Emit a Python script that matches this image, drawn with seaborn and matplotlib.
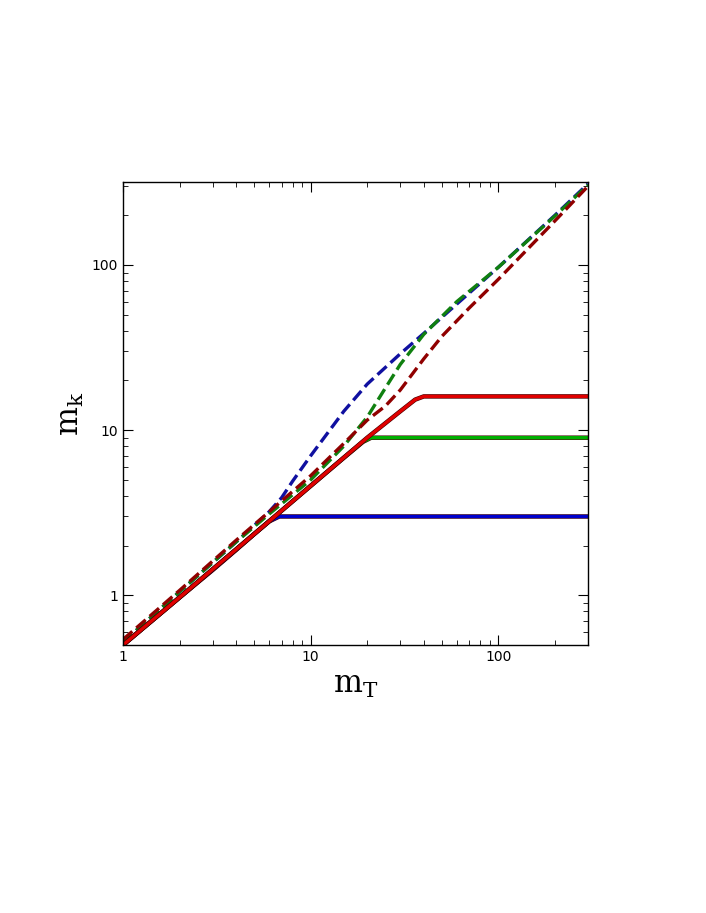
import numpy as np
import matplotlib
matplotlib.use("Agg")
import matplotlib.pyplot as plt
import seaborn as sns
import pandas as pd

sns.set_style("ticks")
plt.rcParams.update({"axes.edgecolor": "black", "xtick.color": "black",
                     "ytick.color": "black", "text.color": "black",
                     "axes.labelcolor": "black"})

# values (m_T, m_k)
solid_blue_x = [1, 2, 3, 4, 5, 6, 6.8, 10, 30, 100, 300]
solid_blue_y = [0.5, 0.97, 1.42, 1.88, 2.35, 2.8, 3.0, 3.0, 3.0, 3.0, 3.0]
solid_green_x = [1, 2, 5, 10, 15, 19, 21, 30, 100, 300]
solid_green_y = [0.5, 0.97, 2.35, 4.6, 6.8, 8.5, 9.0, 9.0, 9.0, 9.0]
solid_red_x = [1, 2, 5, 10, 20, 30, 36, 40, 60, 100, 300]
solid_red_y = [0.5, 0.97, 2.35, 4.6, 9.0, 13.0, 15.3, 16.0, 16.0, 16.0, 16.0]

dash_blue_x = [1, 2, 4, 6, 7, 8, 10, 15, 20, 30, 40, 60, 100, 200, 300]
dash_blue_y = [0.52, 1.05, 2.1, 3.2, 3.9, 4.9, 7.0, 13.0, 19.0, 29.0, 38.5, 58.0, 97, 200, 310]
dash_green_x = [1, 2, 4, 6, 10, 15, 20, 25, 30, 40, 60, 100, 200, 300]
dash_green_y = [0.52, 1.05, 2.1, 3.1, 5.0, 8.0, 12.0, 18.0, 25.0, 38.0, 60.0, 97.0, 198, 305]
dash_red_x = [1, 2, 4, 6, 10, 15, 20, 25, 30, 40, 50, 70, 100, 200, 300]
dash_red_y = [0.54, 1.07, 2.15, 3.2, 5.3, 8.3, 11.5, 14.0, 17.5, 27.0, 37.0, 55.0, 82.0, 185, 300]

series = [
    (dash_blue_x, dash_blue_y, "#1010a0", "--"),
    (dash_green_x, dash_green_y, "#108010", "--"),
    (dash_red_x, dash_red_y, "#900000", "--"),
    (solid_blue_x, solid_blue_y, "#0000cc", "-"),
    (solid_green_x, solid_green_y, "#00b000", "-"),
    (solid_red_x, solid_red_y, "#e00000", "-"),
]

fig = plt.figure(figsize=(7.06, 9.13), dpi=100)
ax = fig.add_axes([123 / 706, 1 - 645 / 913, 465 / 706, 463 / 913])

for x, y, c, ls in series:
    df = pd.DataFrame({"mT": x, "mk": y})
    if ls == "-":
        sns.lineplot(data=df, x="mT", y="mk", ax=ax, color="#400000", lw=3.2)
    sns.lineplot(data=df, x="mT", y="mk", ax=ax, color=c, lw=2.4, linestyle=ls,
                 dashes=(2.5, 2) if ls == "--" else "")

ax.set_xscale("log")
ax.set_yscale("log")
ax.set_xlim(1, 300)
ax.set_ylim(0.5, 318)
ax.set_xticks([1, 10, 100])
ax.set_xticklabels(["1", "10", "100"])
ax.set_yticks([1, 10, 100])
ax.set_yticklabels(["1", "10", "100"])
ax.tick_params(which="both", direction="in", top=True, right=True, labelsize=10)
ax.tick_params(which="major", length=7)
ax.tick_params(which="minor", length=3.5)
for s in ax.spines.values():
    s.set_linewidth(1)
ax.set_xlabel(r"$\mathregular{m_T}$", fontsize=22, family="DejaVu Serif")
ax.set_ylabel(r"$\mathregular{m_k}$", fontsize=22, family="DejaVu Serif")

fig.savefig("out.png", dpi=100)
